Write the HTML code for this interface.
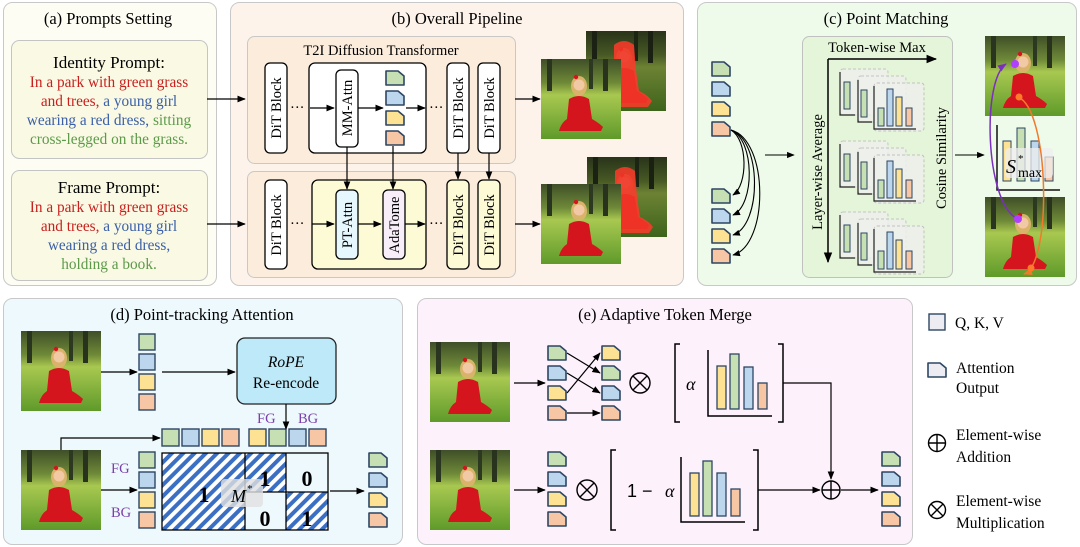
<!DOCTYPE html>
<html><head><meta charset="utf-8"><style>
html,body{margin:0;padding:0;background:#fff;}
svg{display:block;font-family:"Liberation Serif",serif;}
</style></head><body>
<svg width="1080" height="547" viewBox="0 0 1080 547" xmlns="http://www.w3.org/2000/svg">
<defs>
<marker id="ar" viewBox="0 0 10 10" refX="9" refY="5" markerWidth="7" markerHeight="7" orient="auto-start-reverse"><path d="M0,1 L10,5 L0,9 z" fill="#000"/></marker>
<marker id="arp" viewBox="0 0 10 10" refX="9" refY="5" markerWidth="6" markerHeight="6" orient="auto"><path d="M0,1 L10,5 L0,9 z" fill="#7b2fbf"/></marker>
<marker id="aro" viewBox="0 0 10 10" refX="9" refY="5" markerWidth="6" markerHeight="6" orient="auto"><path d="M0,1 L10,5 L0,9 z" fill="#f07a2a"/></marker>
<linearGradient id="bg" x1="0" y1="0" x2="0" y2="1">
<stop offset="0" stop-color="#3f4f28"/><stop offset="0.3" stop-color="#6f8a38"/><stop offset="0.45" stop-color="#a8c850"/><stop offset="1" stop-color="#5f9a2a"/></linearGradient>
<pattern id="hatch" width="8" height="8" patternUnits="userSpaceOnUse" patternTransform="rotate(45)"><rect width="8" height="8" fill="#fff"/><rect width="4" height="8" fill="#3b6fc4"/></pattern>
<symbol id="pg" viewBox="0 0 20 16"><path d="M1,1 H13 L19,6 V15 H1 Z" stroke="#2d4663" stroke-width="1.6" stroke-linejoin="round"/></symbol>
<g id="photo">
<rect width="80" height="80" fill="url(#bg)"/>
<rect x="6" y="0" width="5" height="32" fill="#2a3520"/><rect x="48" y="0" width="4" height="30" fill="#2c3820"/><rect x="62" y="0" width="5" height="32" fill="#28321c"/>
<ellipse cx="38" cy="27" rx="8" ry="10" fill="#d9b36a"/>
<circle cx="38" cy="26" r="5.5" fill="#f1c9a5"/>
<path d="M28,40 Q38,34 48,40 L51,60 Q58,64 62,68 L60,72 L18,72 Q20,64 26,60 Z" fill="#d4151d"/>
<circle cx="35" cy="18" r="2.2" fill="#d4151d"/>
</g>
<g id="photoR">
<use href="#photo"/>
<rect width="80" height="80" fill="#000" opacity="0.35"/>
<path d="M28,14 Q38,6 48,14 L50,40 L53,60 Q62,64 66,70 L62,76 L20,76 Q18,64 24,58 L28,40 Z" fill="#ff3a2a" opacity="0.85"/>
</g>
</defs>

<!-- Panel backgrounds -->
<rect x="3.5" y="2.5" width="213" height="283" rx="9" fill="#fdfdf3" stroke="#c8c8c8"/>
<rect x="230.5" y="2.5" width="453" height="283" rx="9" fill="#fdf3ea" stroke="#c8c8c8"/>
<rect x="697.5" y="2.5" width="379" height="283" rx="9" fill="#eefaea" stroke="#c8c8c8"/>
<rect x="3.5" y="298.5" width="399" height="246" rx="9" fill="#eef9fd" stroke="#c8c8c8"/>
<rect x="417.5" y="298.5" width="495" height="246" rx="9" fill="#fdf2fc" stroke="#c8c8c8"/>

<!-- (a) -->
<text x="108" y="24" font-size="16.5" text-anchor="middle">(a) Prompts Setting</text>
<rect x="11.5" y="40.5" width="196" height="118" rx="8" fill="#fafae4" stroke="#c4c4c4"/>
<rect x="11.5" y="170.5" width="196" height="110" rx="8" fill="#fafae4" stroke="#c4c4c4"/>
<g font-size="15.3" text-anchor="middle">
<text x="109" y="68" font-size="17">Identity Prompt:</text>
<text x="109" y="87" fill="#c8201f">In a park with green grass</text>
<text x="109" y="106"><tspan fill="#c8201f">and trees,</tspan><tspan fill="#3a5fa8"> a young girl</tspan></text>
<text x="109" y="125"><tspan fill="#3a5fa8">wearing a red dress,</tspan><tspan fill="#5c9a4a"> sitting</tspan></text>
<text x="109" y="144" fill="#5c9a4a">cross-legged on the grass.</text>
<text x="109" y="193" font-size="17">Frame Prompt:</text>
<text x="109" y="212" fill="#c8201f">In a park with green grass</text>
<text x="109" y="231"><tspan fill="#c8201f">and trees,</tspan><tspan fill="#3a5fa8"> a young girl</tspan></text>
<text x="109" y="250" fill="#3a5fa8">wearing a red dress,</text>
<text x="109" y="269" fill="#5c9a4a">holding a book.</text>
</g>
<g stroke="#000" stroke-width="1.2" fill="none">
<line x1="207" y1="99" x2="245" y2="99" marker-end="url(#ar)"/>
<line x1="207" y1="224" x2="245" y2="224" marker-end="url(#ar)"/>
</g>

<!-- (b) -->
<text x="457" y="24" font-size="16.5" text-anchor="middle">(b) Overall Pipeline</text>
<rect x="247.5" y="36.5" width="268" height="127" rx="7" fill="#fbecdc" stroke="#c8c8c8"/>
<rect x="247.5" y="171.5" width="268" height="106" rx="7" fill="#fbecdc" stroke="#c8c8c8"/>
<text x="381" y="55" font-size="14.5" text-anchor="middle">T2I Diffusion Transformer</text>
<g stroke="#000" stroke-width="1.3">
<rect x="265" y="63" width="22" height="90" rx="5" fill="#fff"/>
<rect x="309" y="63" width="117" height="90" rx="6" fill="#fff"/>
<rect x="336" y="70" width="22" height="77" rx="5" fill="#fff"/>
<rect x="447" y="63" width="22" height="90" rx="5" fill="#fff"/>
<rect x="478" y="63" width="22" height="90" rx="5" fill="#fff"/>
<rect x="265" y="180" width="22" height="89" rx="5" fill="#fff"/>
<rect x="312" y="180" width="114" height="89" rx="6" fill="#fdfbd6"/>
<rect x="336" y="190" width="22" height="69" rx="5" fill="#e6f7fd"/>
<rect x="383" y="190" width="22" height="69" rx="5" fill="#f7eefa"/>
<rect x="447" y="180" width="22" height="89" rx="5" fill="#fdfbd6"/>
<rect x="478" y="180" width="22" height="89" rx="5" fill="#fdfbd6"/>
</g>
<use href="#pg" x="385" y="70" width="20" height="16" fill="#c6e0b4"/>
<use href="#pg" x="385" y="90" width="20" height="16" fill="#bcd6ee"/>
<use href="#pg" x="385" y="110" width="20" height="16" fill="#fde294"/>
<use href="#pg" x="385" y="130" width="20" height="16" fill="#f7c6a5"/>
<g font-size="14.5">
<text transform="translate(281,108) rotate(-90)" text-anchor="middle">DiT Block</text>
<text transform="translate(352,108) rotate(-90)" text-anchor="middle">MM-Attn</text>
<text transform="translate(463,108) rotate(-90)" text-anchor="middle">DiT Block</text>
<text transform="translate(494,108) rotate(-90)" text-anchor="middle">DiT Block</text>
<text transform="translate(281,225) rotate(-90)" text-anchor="middle">DiT Block</text>
<text transform="translate(352,225) rotate(-90)" text-anchor="middle">PT-Attn</text>
<text transform="translate(399,225) rotate(-90)" text-anchor="middle">AdaTome</text>
<text transform="translate(463,225) rotate(-90)" text-anchor="middle">DiT Block</text>
<text transform="translate(494,225) rotate(-90)" text-anchor="middle">DiT Block</text>
<text x="290" y="112">···</text><text x="429" y="112">···</text>
<text x="290" y="228">···</text><text x="429" y="228">···</text>
</g>
<g stroke="#000" stroke-width="1.2" fill="none">
<line x1="310" y1="108" x2="334" y2="108" marker-end="url(#ar)"/>
<line x1="358" y1="108" x2="383" y2="108" marker-end="url(#ar)"/>
<line x1="406" y1="108" x2="425" y2="108" marker-end="url(#ar)"/>
<line x1="312" y1="224" x2="334" y2="224" marker-end="url(#ar)"/>
<line x1="358" y1="224" x2="381" y2="224" marker-end="url(#ar)"/>
<line x1="405" y1="224" x2="425" y2="224" marker-end="url(#ar)"/>
<line x1="347" y1="147" x2="347" y2="189" marker-end="url(#ar)"/>
<line x1="393" y1="146" x2="393" y2="189" marker-end="url(#ar)"/>
<line x1="458" y1="153" x2="458" y2="179" marker-end="url(#ar)"/>
<line x1="489" y1="153" x2="489" y2="179" marker-end="url(#ar)"/>
<line x1="515" y1="99" x2="540" y2="99" marker-end="url(#ar)"/>
<line x1="515" y1="224" x2="540" y2="224" marker-end="url(#ar)"/>
</g>
<use href="#photoR" transform="translate(586,31)"/>
<use href="#photo" transform="translate(541,59)"/>
<use href="#photoR" transform="translate(587,157)"/>
<use href="#photo" transform="translate(541,184)"/>

<!-- (c) -->
<text x="886" y="24" font-size="16.5" text-anchor="middle">(c) Point Matching</text>
<use href="#pg" x="711" y="61" width="20" height="16" fill="#c6e0b4"/>
<use href="#pg" x="711" y="81" width="20" height="16" fill="#bcd6ee"/>
<use href="#pg" x="711" y="101" width="20" height="16" fill="#fde294"/>
<use href="#pg" x="711" y="121" width="20" height="16" fill="#f7c6a5"/>
<use href="#pg" x="711" y="188" width="20" height="16" fill="#c6e0b4"/>
<use href="#pg" x="711" y="208" width="20" height="16" fill="#bcd6ee"/>
<use href="#pg" x="711" y="228" width="20" height="16" fill="#fde294"/>
<use href="#pg" x="711" y="248" width="20" height="16" fill="#f7c6a5"/>
<g stroke="#000" stroke-width="1.1" fill="none">
<path d="M731,130 C748,140 748,185 733,195" marker-end="url(#ar)"/>
<path d="M731,130 C755,140 755,205 733,215" marker-end="url(#ar)"/>
<path d="M731,130 C762,140 762,225 733,235" marker-end="url(#ar)"/>
<path d="M731,130 C769,140 769,245 733,255" marker-end="url(#ar)"/>
<line x1="765" y1="155" x2="794" y2="155" marker-end="url(#ar)"/>
<line x1="955" y1="155" x2="984" y2="155" marker-end="url(#ar)"/>
</g>
<rect x="802.5" y="36.5" width="150" height="241" rx="7" fill="#e5f5da" stroke="#c0c0c0"/>
<text x="877" y="52" font-size="14.5" text-anchor="middle">Token-wise Max</text>
<g stroke="#000" stroke-width="1.5" fill="none">
<line x1="828" y1="59" x2="936" y2="59" marker-end="url(#ar)"/>
<line x1="828" y1="59" x2="828" y2="262" marker-end="url(#ar)"/>
</g>
<text transform="translate(822,172) rotate(-90)" font-size="14.5" text-anchor="middle">Layer-wise Average</text>
<text transform="translate(946,158) rotate(-90)" font-size="14.5" text-anchor="middle">Cosine Similarity</text>
<g id="bgrp">
<rect x="840" y="69" width="48" height="46" rx="3" fill="#eef0ec" stroke="#bbb" stroke-dasharray="3,2" opacity="0.8"/>
<rect x="858" y="76" width="48" height="46" rx="3" fill="#eef0ec" stroke="#bbb" stroke-dasharray="3,2" opacity="0.8"/>
<rect x="874" y="83" width="50" height="48" rx="3" fill="#eef0ec" stroke="#bbb" stroke-dasharray="3,2" opacity="0.85"/>
<path d="M840,72 V115 H855 M858,80 V122 H872 M874,86 V129 H916" stroke="#222" stroke-width="1.2" fill="none"/>
<rect x="844" y="82" width="6" height="27" fill="#c6e0b4" stroke="#2d4663"/>
<rect x="861" y="90" width="6" height="27" fill="#c6e0b4" stroke="#2d4663"/>
<rect x="878" y="108" width="6" height="18" fill="#c6e0b4" stroke="#2d4663"/>
<rect x="887" y="89" width="6" height="37" fill="#bcd6ee" stroke="#2d4663"/>
<rect x="896" y="97" width="6" height="29" fill="#fde294" stroke="#2d4663"/>
<rect x="906" y="108" width="6" height="18" fill="#f7c6a5" stroke="#2d4663"/>
</g>
<use href="#bgrp" y="72"/>
<use href="#bgrp" y="143"/>
<use href="#photo" transform="translate(985,36)"/>
<use href="#photo" transform="translate(985,197)"/>
<path d="M997,125 V190 H1060" stroke="#111" stroke-width="1.5" fill="none"/>
<rect x="1003" y="141" width="8" height="40" fill="#fde294" stroke="#2d4663"/>
<rect x="1017" y="128" width="8" height="53" fill="#c6e0b4" stroke="#2d4663"/>
<rect x="1031" y="141" width="8" height="40" fill="#bcd6ee" stroke="#2d4663"/>
<rect x="1045" y="157" width="8" height="24" fill="#f7c6a5" stroke="#2d4663"/>
<rect x="1005" y="148" width="48" height="30" rx="4" fill="#eeeeee" opacity="0.75"/>
<text x="1006" y="173" font-size="20" font-style="italic">S</text><text x="1018" y="162" font-size="11">*</text><text x="1018" y="177" font-size="14">max</text>
<g fill="none" stroke-width="1.5">
<path d="M1016,218 C985,200 982,80 1006,64" stroke="#7b2fbf" marker-end="url(#arp)"/>
<path d="M1018,97 C1050,110 1052,265 1024,274" stroke="#f07a2a" marker-end="url(#aro)"/>
</g>
<circle cx="1015" cy="64" r="4" fill="#b040ff"/>
<circle cx="1018" cy="219" r="4" fill="#b040ff"/>
<circle cx="1019" cy="97" r="3.5" fill="#ff7a2a"/>
<circle cx="1031" cy="268" r="3.5" fill="#ff7a2a"/>

<!-- (d) -->
<text x="202" y="320" font-size="16.5" text-anchor="middle">(d) Point-tracking Attention</text>
<use href="#photo" transform="translate(21,331)"/>
<use href="#photo" transform="translate(21,450)"/>
<g stroke="#2d4663" stroke-width="1.4">
<rect x="139" y="334" width="16" height="16" fill="#c6e0b4"/>
<rect x="139" y="354" width="16" height="16" fill="#bcd6ee"/>
<rect x="139" y="374" width="16" height="16" fill="#fde294"/>
<rect x="139" y="394" width="16" height="16" fill="#f7c6a5"/>
<rect x="139" y="452" width="16" height="16" fill="#c6e0b4"/>
<rect x="139" y="472" width="16" height="16" fill="#bcd6ee"/>
<rect x="139" y="492" width="16" height="16" fill="#fde294"/>
<rect x="139" y="512" width="16" height="16" fill="#f7c6a5"/>
<rect x="162" y="429" width="17" height="17" fill="#c6e0b4"/>
<rect x="182" y="429" width="17" height="17" fill="#bcd6ee"/>
<rect x="202" y="429" width="17" height="17" fill="#fde294"/>
<rect x="222" y="429" width="17" height="17" fill="#f7c6a5"/>
<rect x="249" y="429" width="17" height="17" fill="#fde294"/>
<rect x="269" y="429" width="17" height="17" fill="#c6e0b4"/>
<rect x="289" y="429" width="17" height="17" fill="#bcd6ee"/>
<rect x="309" y="429" width="17" height="17" fill="#f7c6a5"/>
</g>
<rect x="237" y="338" width="99" height="66" rx="8" fill="#bde9f8" stroke="#222" stroke-width="1.3"/>
<text x="286" y="367" font-size="15.5" font-style="italic" text-anchor="middle">RoPE</text>
<text x="286" y="388" font-size="15.5" text-anchor="middle">Re-encode</text>
<g font-size="14.5" fill="#7a3fa8"><text x="257" y="423">FG</text><text x="298" y="423">BG</text>
<text x="111" y="473">FG</text><text x="111" y="517">BG</text></g>
<g stroke="#000" stroke-width="1.2" fill="none">
<line x1="101" y1="372" x2="137" y2="372" marker-end="url(#ar)"/>
<line x1="162" y1="372" x2="235" y2="372" marker-end="url(#ar)"/>
<line x1="286" y1="404" x2="286" y2="429" marker-end="url(#ar)"/>
<path d="M61,450 V438 H160" marker-end="url(#ar)"/>
<line x1="101" y1="490" x2="137" y2="490" marker-end="url(#ar)"/>
<line x1="330" y1="491" x2="364" y2="491" marker-end="url(#ar)"/>
</g>
<rect x="162" y="453" width="83" height="77" fill="url(#hatch)"/>
<rect x="245" y="453" width="41" height="39" fill="url(#hatch)"/>
<rect x="286" y="492" width="42" height="38" fill="url(#hatch)"/>
<g stroke="#000" stroke-width="1.3" fill="none">
<rect x="162" y="453" width="166" height="77"/>
<line x1="245" y1="453" x2="245" y2="530"/><line x1="286" y1="453" x2="286" y2="530"/><line x1="245" y1="492" x2="328" y2="492"/>
</g>
<rect x="221" y="479" width="42" height="28" rx="4" fill="#e0e0e0" opacity="0.8"/>
<g font-size="22" font-weight="bold" text-anchor="middle">
<text x="204" y="502">1</text><text x="265" y="486">1</text><text x="307" y="486">0</text><text x="265" y="526">0</text><text x="307" y="526">1</text></g>
<text x="231" y="502" font-size="18" font-style="italic">M</text><text x="247" y="492" font-size="11">*</text>
<use href="#pg" x="368" y="452" width="20" height="16" fill="#c6e0b4"/>
<use href="#pg" x="368" y="472" width="20" height="16" fill="#bcd6ee"/>
<use href="#pg" x="368" y="492" width="20" height="16" fill="#fde294"/>
<use href="#pg" x="368" y="512" width="20" height="16" fill="#f7c6a5"/>

<!-- (e) -->
<text x="665" y="320" font-size="16.5" text-anchor="middle">(e) Adaptive Token Merge</text>
<use href="#photo" transform="translate(430,342)"/>
<use href="#photo" transform="translate(430,450)"/>
<use href="#pg" x="547" y="345" width="20" height="16" fill="#c6e0b4"/>
<use href="#pg" x="547" y="365" width="20" height="16" fill="#bcd6ee"/>
<use href="#pg" x="547" y="385" width="20" height="16" fill="#fde294"/>
<use href="#pg" x="547" y="405" width="20" height="16" fill="#f7c6a5"/>
<use href="#pg" x="601" y="345" width="20" height="16" fill="#fde294"/>
<use href="#pg" x="601" y="365" width="20" height="16" fill="#c6e0b4"/>
<use href="#pg" x="601" y="385" width="20" height="16" fill="#bcd6ee"/>
<use href="#pg" x="601" y="405" width="20" height="16" fill="#f7c6a5"/>
<use href="#pg" x="547" y="451" width="20" height="16" fill="#c6e0b4"/>
<use href="#pg" x="547" y="471" width="20" height="16" fill="#bcd6ee"/>
<use href="#pg" x="547" y="491" width="20" height="16" fill="#fde294"/>
<use href="#pg" x="547" y="511" width="20" height="16" fill="#f7c6a5"/>
<use href="#pg" x="881" y="451" width="20" height="16" fill="#c6e0b4"/>
<use href="#pg" x="881" y="471" width="20" height="16" fill="#bcd6ee"/>
<use href="#pg" x="881" y="491" width="20" height="16" fill="#fde294"/>
<use href="#pg" x="881" y="511" width="20" height="16" fill="#f7c6a5"/>
<g stroke="#000" stroke-width="1.2" fill="none">
<line x1="514" y1="383" x2="545" y2="383" marker-end="url(#ar)"/>
<line x1="567" y1="353" x2="600" y2="373" marker-end="url(#ar)"/>
<line x1="567" y1="373" x2="600" y2="393" marker-end="url(#ar)"/>
<line x1="567" y1="393" x2="600" y2="353" marker-end="url(#ar)"/>
<line x1="567" y1="413" x2="600" y2="413" marker-end="url(#ar)"/>
<line x1="514" y1="490" x2="545" y2="490" marker-end="url(#ar)"/>
<path d="M783,383 H831 V479" marker-end="url(#ar)"/>
<line x1="758" y1="490" x2="820" y2="490" marker-end="url(#ar)"/>
<line x1="841" y1="490" x2="878" y2="490" marker-end="url(#ar)"/>
<path d="M680,344 H675 V422 H680 M778,344 H783 V422 H778" stroke-width="1.5"/>
<path d="M616,450 H611 V530 H616 M753,450 H758 V530 H753" stroke-width="1.5"/>
<path d="M708,350 V416 H772" stroke-width="1.5"/>
<path d="M681,457 V522 H745" stroke-width="1.5"/>
</g>
<g stroke="#2d4663" stroke-width="1.3">
<rect x="717" y="366" width="9" height="43" fill="#fde294"/>
<rect x="730" y="354" width="9" height="55" fill="#c6e0b4"/>
<rect x="744" y="367" width="9" height="42" fill="#bcd6ee"/>
<rect x="758" y="383" width="9" height="26" fill="#f7c6a5"/>
<rect x="690" y="473" width="9" height="43" fill="#fde294"/>
<rect x="703" y="461" width="9" height="55" fill="#c6e0b4"/>
<rect x="717" y="473" width="9" height="43" fill="#bcd6ee"/>
<rect x="731" y="489" width="9" height="27" fill="#f7c6a5"/>
</g>
<text x="686" y="390" font-size="18" font-style="italic">α</text>
<text x="627" y="497" font-size="18" font-family="Liberation Sans, sans-serif">1 −</text>
<text x="665" y="497" font-size="18" font-style="italic">α</text>
<g stroke="#000" stroke-width="1.4" fill="none">
<circle cx="640" cy="383" r="10"/><path d="M633,376 L647,390 M647,376 L633,390"/>
<circle cx="587" cy="490" r="10"/><path d="M580,483 L594,497 M594,483 L580,497"/>
<circle cx="831" cy="490" r="9"/><path d="M822,490 H840 M831,481 V499"/>
</g>

<!-- legend -->
<rect x="929" y="314" width="16" height="16" fill="#ececf2" stroke="#2d4663" stroke-width="1.4"/>
<text x="955" y="328" font-size="15.5">Q, K, V</text>
<use href="#pg" x="927" y="362" width="20" height="16" fill="#ececf2"/>
<text x="956" y="373" font-size="15.5">Attention</text><text x="956" y="393" font-size="15.5">Output</text>
<g stroke="#000" stroke-width="1.4" fill="none">
<circle cx="937" cy="443" r="8.5"/><path d="M928.5,443 H945.5 M937,434.5 V451.5"/>
<circle cx="937" cy="510" r="8.5"/><path d="M931,504 L943,516 M943,504 L931,516"/>
</g>
<text x="956" y="440" font-size="15.5">Element-wise</text><text x="956" y="462" font-size="15.5">Addition</text>
<text x="956" y="506" font-size="15.5">Element-wise</text><text x="956" y="528" font-size="15.5">Multiplication</text>
</svg>
</body></html>
